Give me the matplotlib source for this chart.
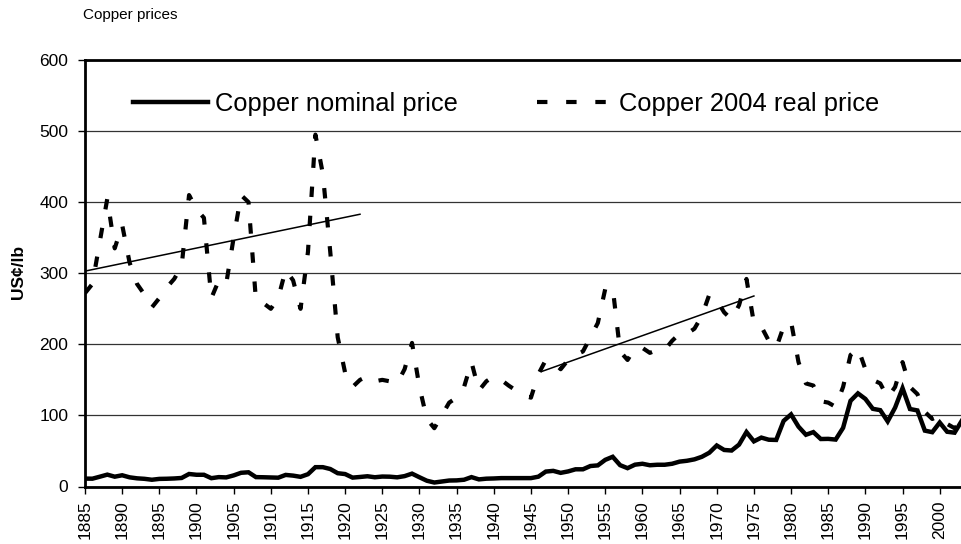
# Copper prices: nominal vs 2004 real, US cents per lb, 1885-2003
import numpy as np
import matplotlib.pyplot as plt

plt.rcParams['font.family'] = ['Liberation Sans', 'DejaVu Sans']

years = np.arange(1885, 2004)

nominal = [
    11.1, 11.0, 13.8, 16.7, 13.8, 15.8, 12.9, 11.5, 10.8, 9.5,      # 1885-1894
    10.7, 10.9, 11.3, 12.0, 17.6, 16.5, 16.5, 11.7, 13.2, 12.8,     # 1895-1904
    15.6, 19.3, 20.0, 13.2, 13.0, 12.7, 12.4, 16.3, 15.3, 13.6,     # 1905-1914
    17.3, 27.2, 27.2, 24.6, 18.7, 17.5, 12.5, 13.4, 14.4, 13.0,     # 1915-1924
    14.0, 13.8, 12.9, 14.6, 18.1, 13.0, 8.1, 5.6, 7.0, 8.4,         # 1925-1934
    8.6, 9.5, 13.2, 10.0, 11.0, 11.3, 11.8, 11.8, 11.8, 11.8,       # 1935-1944
    11.8, 13.8, 21.0, 22.0, 19.2, 21.2, 24.2, 24.2, 28.8, 29.7,     # 1945-1954
    37.5, 41.8, 30.0, 25.8, 30.7, 32.0, 29.9, 30.6, 30.6, 32.0,     # 1955-1964
    35.0, 36.2, 38.2, 41.8, 47.5, 57.7, 51.4, 50.6, 58.9, 76.6,     # 1965-1974
    63.5, 68.8, 65.8, 65.5, 92.3, 101.4, 84.2, 72.8, 76.5, 66.8,    # 1975-1984
    67.0, 66.0, 82.5, 120.5, 131.0, 123.2, 109.3, 107.4, 91.6, 111.0,  # 1985-1994
    138.3, 109.0, 107.0, 78.6, 76.4, 90.0, 77.0, 75.7, 93.0,        # 1995-2003
]

real_2004 = [
    272, 285, 345, 405, 335, 368, 315, 285, 270, 252,   # 1885-1894
    265, 280, 292, 310, 410, 390, 378, 265, 290, 285,   # 1895-1904
    350, 410, 400, 262, 258, 250, 265, 305, 290, 250,   # 1905-1914
    330, 495, 440, 330, 210, 160, 140, 150, 155, 148,   # 1915-1924
    150, 148, 145, 165, 202, 140, 95, 82, 100, 118,     # 1925-1934
    125, 140, 175, 135, 148, 155, 150, 142, 135, 128,   # 1935-1944
    125, 158, 178, 175, 165, 178, 185, 190, 210, 230,   # 1945-1954
    278, 280, 190, 178, 195, 195, 188, 192, 192, 205,   # 1955-1964
    215, 215, 222, 240, 270, 262, 245, 235, 255, 292,   # 1965-1974
    230, 225, 205, 195, 225, 232, 175, 145, 142, 120,   # 1975-1984
    118, 112, 140, 185, 195, 165, 150, 145, 125, 140,   # 1985-1994
    175, 140, 130, 105, 95, 100, 88, 82, 92,            # 1995-2003
]

# trend lines drawn on the real series (end points)
trend1_years = [1885, 1922]
trend1_vals = [303, 383]
trend2_years = [1946.5, 1975]
trend2_vals = [162, 268]

fig = plt.figure(figsize=(9.62, 5.44), dpi=100)
ax = fig.add_axes([85 / 962, 57.5 / 544, 877 / 962, 426.5 / 544])

ax.plot(years, nominal, color='black', lw=3.2, solid_joinstyle='miter',
        label='Copper nominal price')
ax.plot(years, real_2004, color='black', lw=3.0, dashes=(2.5, 4.5),
        label='Copper 2004 real price')
ax.plot(trend1_years, trend1_vals, color='black', lw=1.1)
ax.plot(trend2_years, trend2_vals, color='black', lw=1.1)

ax.set_xlim(1885, 2003)
ax.set_ylim(0, 600)
ax.set_xticks(np.arange(1885, 2001, 5))
ax.set_yticks(np.arange(0, 601, 100))
ax.tick_params(axis='x', labelrotation=90, length=5, width=1, pad=5, labelsize=12.5)
ax.tick_params(axis='y', length=5, width=1, pad=7, labelsize=12.5)

ax.yaxis.grid(True, color='#333333', lw=0.9)
ax.set_axisbelow(True)
for side in ['left', 'top', 'bottom']:
    ax.spines[side].set_linewidth(2)
ax.spines['right'].set_visible(False)

leg = ax.legend(loc='center left', bbox_to_anchor=(48 / 877, 0.897), ncol=2,
                frameon=False, fontsize=18.4, handlelength=2.94, handletextpad=0.27,
                columnspacing=3.1, borderpad=0, borderaxespad=0)

fig.text(18 / 962, 1 - 272 / 544, 'US¢/lb', rotation=90, fontsize=12.5,
         fontweight='bold', ha='center', va='center')
fig.text(83 / 962, 1 - 15 / 544, 'Copper prices', fontsize=11, ha='left', va='center')

fig.savefig('out.png', dpi=100)
